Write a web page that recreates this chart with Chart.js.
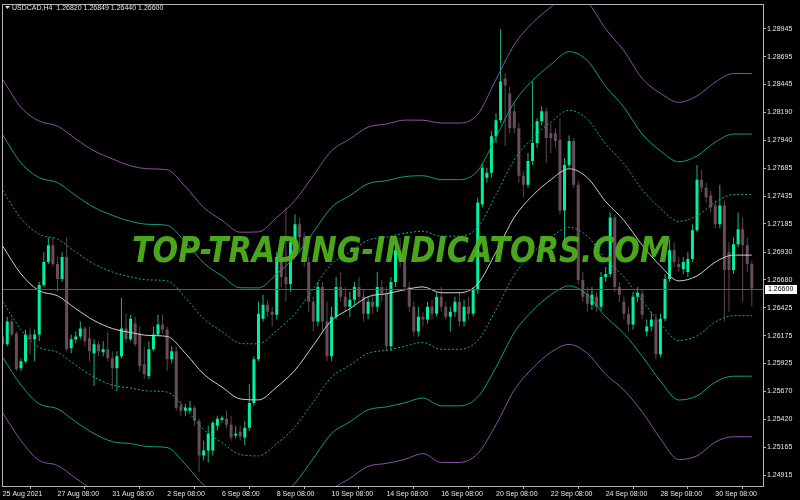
<!DOCTYPE html>
<html>
<head>
<meta charset="utf-8">
<script src="https://cdn.jsdelivr.net/npm/chart.js@4.4.0/dist/chart.umd.min.js"></script>
<style>
html, body { margin: 0; padding: 0; background: #000; }
#wrap { width: 800px; height: 500px; position: relative; }
</style>
</head>
<body>
<div id="wrap"><canvas id="chart" width="800" height="500"></canvas></div>
<script>
var symbolTitle = "USDCAD,H4  1.26820 1.26849 1.26440 1.26600";
var watermark = "TOP-TRADING-INDICATORS.COM";

// H4 candles (one entry per bar)
var opens = [
  1.26167,1.26096,1.26302,1.26194,1.25880,1.25943,1.26185,1.26141,1.26185,1.26633,
  1.26839,1.26992,1.26821,1.26687,1.26884,1.26060,1.26141,1.26167,1.26239,1.26150,
  1.26015,1.26096,1.26024,1.26051,1.25970,1.25880,1.25988,1.26239,1.26141,1.26284,
  1.26194,1.25916,1.25809,1.26051,1.26185,1.26275,1.26230,1.25961,1.26033,1.25540,
  1.25495,1.25495,1.25522,1.25406,1.25092,1.25137,1.25137,1.25361,1.25415,1.25424,
  1.25370,1.25272,1.25307,1.25254,1.25343,1.25567,1.25961,1.26328,1.26454,1.26391,
  1.26364,1.26884,1.26705,1.26642,1.27019,1.27180,1.27064,1.26839,1.26481,1.26302,
  1.26615,1.26302,1.25988,1.26346,1.26615,1.26526,1.26436,1.26499,1.26615,1.26526,
  1.26373,1.26481,1.26436,1.26615,1.26553,1.26078,1.26660,1.26947,1.26839,1.26615,
  1.26436,1.26212,1.26346,1.26320,1.26436,1.26373,1.26526,1.26436,1.26346,1.26391,
  1.26481,1.26302,1.26436,1.26373,1.26589,1.27359,1.27601,1.27646,1.27977,1.28121,
  1.28497,1.28363,1.28201,1.28049,1.27619,1.27538,1.27753,1.27915,1.28112,1.28201,
  1.28004,1.28004,1.27942,1.27305,1.27717,1.27933,1.27538,1.26678,1.26553,1.26454,
  1.26526,1.26436,1.26705,1.26732,1.27242,1.26615,1.26481,1.26373,1.26275,1.26526,
  1.26553,1.26212,1.26257,1.26320,1.26006,1.26328,1.26687,1.26947,1.26821,1.26777,
  1.26750,1.26866,1.27126,1.27583,1.27511,1.27440,1.27350,1.27180,1.27350,1.26929,
  1.26768,1.27001,1.27135,1.26992,1.26820
];
var highs = [
  1.26230,1.26346,1.26328,1.26212,1.25970,1.26230,1.26248,1.26230,1.26660,1.26929,
  1.27064,1.27064,1.26884,1.26929,1.27064,1.26185,1.26212,1.26302,1.26257,1.26257,
  1.26141,1.26123,1.26123,1.26212,1.26033,1.26033,1.26517,1.26373,1.26364,1.26346,
  1.26257,1.26078,1.26123,1.26257,1.26364,1.26364,1.26257,1.26078,1.26078,1.25585,
  1.25558,1.25585,1.25540,1.25424,1.25227,1.25361,1.25406,1.25451,1.25451,1.25495,
  1.25451,1.25361,1.25361,1.25406,1.25737,1.25988,1.26481,1.26544,1.26499,1.26436,
  1.26929,1.26974,1.27332,1.27064,1.27269,1.27242,1.27108,1.26884,1.26526,1.26660,
  1.26660,1.26481,1.26436,1.26705,1.26750,1.26615,1.26571,1.26660,1.26705,1.26589,
  1.26526,1.26553,1.26750,1.26678,1.26615,1.26705,1.27019,1.27064,1.26884,1.26660,
  1.26481,1.26436,1.26391,1.26481,1.26499,1.26571,1.26615,1.26481,1.26436,1.26526,
  1.26571,1.26499,1.26526,1.26615,1.27422,1.27735,1.27691,1.28022,1.28183,1.28945,
  1.28542,1.28425,1.28273,1.28094,1.27664,1.27825,1.28470,1.28139,1.28246,1.28228,
  1.28094,1.28049,1.28139,1.27780,1.27986,1.27960,1.27574,1.26750,1.26615,1.26615,
  1.26571,1.26750,1.26795,1.27287,1.27269,1.26660,1.26526,1.26436,1.26571,1.26615,
  1.26589,1.26320,1.26391,1.26373,1.26373,1.26732,1.27046,1.27019,1.26884,1.26884,
  1.26929,1.27180,1.27717,1.27673,1.27556,1.27485,1.27395,1.27538,1.27395,1.27019,
  1.27064,1.27287,1.27242,1.27064,1.26849
];
var lows = [
  1.26006,1.26078,1.26167,1.25854,1.25854,1.25925,1.26006,1.25943,1.26123,1.26615,
  1.26821,1.26795,1.26571,1.26660,1.26033,1.26015,1.26105,1.26141,1.26078,1.25943,
  1.25719,1.25988,1.25988,1.25943,1.25692,1.25675,1.25970,1.26105,1.26123,1.26078,
  1.25854,1.25782,1.25782,1.26033,1.26167,1.26194,1.25854,1.25925,1.25495,1.25451,
  1.25451,1.25477,1.25361,1.24940,1.25047,1.25029,1.25092,1.25316,1.25388,1.25334,
  1.25227,1.25245,1.25227,1.25182,1.25316,1.25540,1.25943,1.26302,1.26346,1.26257,
  1.26320,1.26615,1.26481,1.26571,1.26974,1.26929,1.26795,1.26391,1.26212,1.26257,
  1.26212,1.25943,1.25943,1.26320,1.26481,1.26391,1.26346,1.26436,1.26481,1.26302,
  1.26320,1.26373,1.26391,1.26481,1.26033,1.26033,1.26615,1.26795,1.26571,1.26391,
  1.26167,1.26167,1.26257,1.26284,1.26320,1.26346,1.26391,1.26320,1.26212,1.26346,
  1.26257,1.26257,1.26320,1.26346,1.26553,1.27332,1.27556,1.27601,1.27915,1.28094,
  1.27888,1.28004,1.28004,1.27556,1.27422,1.27511,1.27717,1.27870,1.28076,1.27735,
  1.27825,1.27870,1.27269,1.27001,1.27691,1.27511,1.26642,1.26481,1.26391,1.26409,
  1.26391,1.26409,1.26660,1.26705,1.26571,1.26481,1.26320,1.26212,1.26230,1.26481,
  1.26320,1.26167,1.26212,1.25961,1.25979,1.26302,1.26660,1.26795,1.26750,1.26732,
  1.26705,1.26839,1.27108,1.27467,1.27377,1.27287,1.27145,1.27145,1.26302,1.26391,
  1.26732,1.26974,1.26481,1.26750,1.26440
];
var closes = [
  1.26096,1.26302,1.26185,1.25871,1.25943,1.26185,1.26141,1.26185,1.26633,1.26839,
  1.26992,1.26821,1.26687,1.26884,1.26051,1.26141,1.26167,1.26239,1.26123,1.26033,
  1.26096,1.26033,1.26051,1.25970,1.25880,1.25988,1.26239,1.26141,1.26328,1.26096,
  1.25898,1.25827,1.26051,1.26185,1.26275,1.26230,1.25961,1.26033,1.25522,1.25495,
  1.25522,1.25522,1.25406,1.25092,1.25137,1.25289,1.25388,1.25424,1.25433,1.25370,
  1.25254,1.25289,1.25263,1.25343,1.25567,1.25961,1.26373,1.26454,1.26391,1.26364,
  1.26884,1.26705,1.26642,1.27019,1.27180,1.27064,1.26839,1.26481,1.26302,1.26615,
  1.26302,1.25988,1.26346,1.26615,1.26526,1.26436,1.26499,1.26615,1.26526,1.26373,
  1.26481,1.26436,1.26615,1.26553,1.26078,1.26660,1.26947,1.26839,1.26615,1.26436,
  1.26212,1.26346,1.26320,1.26436,1.26373,1.26526,1.26436,1.26346,1.26391,1.26481,
  1.26302,1.26436,1.26373,1.26589,1.27377,1.27691,1.27646,1.27977,1.28121,1.28470,
  1.28434,1.28049,1.28049,1.27619,1.27538,1.27753,1.27915,1.28112,1.28201,1.27960,
  1.27960,1.27933,1.27305,1.27717,1.27933,1.27538,1.26678,1.26526,1.26463,1.26544,
  1.26436,1.26705,1.26732,1.27242,1.26615,1.26544,1.26373,1.26275,1.26526,1.26562,
  1.26364,1.26257,1.26320,1.26006,1.26328,1.26687,1.26947,1.26839,1.26795,1.26839,
  1.26866,1.27126,1.27583,1.27511,1.27422,1.27332,1.27180,1.27350,1.26768,1.26768,
  1.27001,1.27135,1.26992,1.26821,1.26600
];

// moving average (white) sampled every 4 bars, and the band step of the envelope
var maIdx = [0,4,8,12,16,20,24,28,32,36,40,44,48,52,56,60,64,68,72,76,80,
             84,88,92,96,100,104,108,112,116,120,124,128,132,136,140,144,148,152,156,160,164];
var maVals = [1.26983,1.26732,1.26580,1.26535,1.26418,1.26311,1.26239,1.26203,1.26176,1.26167,1.26015,
              1.25827,1.25710,1.25603,1.25594,1.25710,1.25863,1.26087,1.26311,1.26418,1.26526,
              1.26553,1.26589,1.26615,1.26562,1.26562,1.26642,1.26929,1.27243,1.27440,1.27583,
              1.27682,1.27601,1.27386,1.27216,1.26992,1.26804,1.26669,1.26714,1.26839,1.26902,1.26902];
var bandStep = [0.00502,0.00502,0.00511,0.00511,0.00511,0.00511,0.00511,0.00502,0.00502,0.00502,0.00502,
                0.00502,0.00502,0.00502,0.00506,0.00511,0.00511,0.00511,0.00511,0.00511,0.00511,
                0.00511,0.00511,0.00502,0.00511,0.00511,0.00511,0.00520,0.00520,0.00520,0.00520,
                0.00529,0.00529,0.00520,0.00511,0.00502,0.00520,0.00538,0.00542,0.00542,0.00547,0.00547];

var dateTicks = [0,12,24,36,48,60,72,84,96,108,120,132,144,156];
var dateLabels = ["25 Aug 2021","27 Aug 08:00","31 Aug 08:00","2 Sep 08:00","6 Sep 08:00",
                  "8 Sep 08:00","10 Sep 08:00","14 Sep 08:00","16 Sep 08:00","20 Sep 08:00",
                  "22 Sep 08:00","24 Sep 08:00","28 Sep 08:00","30 Sep 08:00"];

var priceTicks = [1.28945,1.28695,1.28445,1.28190,1.27940,1.27685,1.27435,1.27185,1.26930,
                  1.26680,1.26425,1.26175,1.25925,1.25670,1.25420,1.25165,1.24915];

var bullBody = "#00f29e", bearBody = "#684b5c";
var bullWick = "#18b57c", bearWick = "#5e4453";
var frameColor = "#b4b4b4";
var lastClose = closes[closes.length - 1];

function isBull(i) { return closes[i] >= opens[i]; }

var wickData = highs.map((h, i) => ({ x: i, y: [lows[i], h] }));
var bodyData = opens.map((o, i) => ({ x: i, y: [o, closes[i]] }));

function band(k) {
    return maIdx.map((x, j) => ({ x: x, y: maVals[j] + k * bandStep[j] }));
}

function bandLine(k, color, dash) {
    return {
        type: "line",
        data: band(k),
        borderColor: color,
        borderWidth: 1,
        borderDash: dash,
        pointRadius: 0,
        cubicInterpolationMode: "monotone",
        fill: false,
        order: 0
    };
}

var mtPlugin = {
    id: "mtDecor",
    beforeDraw(chart) {
        var c = chart.ctx;
        c.save();
        c.fillStyle = "#000";
        c.fillRect(0, 0, chart.width, chart.height);
        c.restore();
    },
    afterDatasetsDraw(chart) {
        var c = chart.ctx, a = chart.chartArea;
        var y = chart.scales.y.getPixelForValue(lastClose);
        c.save();
        // last price line
        c.strokeStyle = "#6a5060";
        c.lineWidth = 1;
        c.beginPath();
        c.moveTo(a.left, Math.round(y) + 0.5);
        c.lineTo(a.right, Math.round(y) + 0.5);
        c.stroke();

        // watermark
        c.font = "bold italic 35px 'DejaVu Sans'";
        var w = c.measureText(watermark).width;
        c.translate(132, 262);
        c.scale(538 / w, 1);
        c.fillStyle = "rgba(78,176,28,0.95)";
        c.textBaseline = "alphabetic";
        c.fillText(watermark, 0, 0);
        c.restore();
    },
    afterDraw(chart) {
        var c = chart.ctx, a = chart.chartArea;
        c.save();
        c.strokeStyle = frameColor;
        c.lineWidth = 1;
        c.strokeRect(Math.round(a.left) + 0.5, Math.round(a.top) - 0.5, Math.round(a.right - a.left), Math.round(a.bottom - a.top) + 1);

        // title
        c.fillStyle = "#e0e0e0";
        c.beginPath();
        c.moveTo(5, 6); c.lineTo(10, 6); c.lineTo(7.5, 9); c.closePath();
        c.fill();
        c.font = "7px 'Liberation Sans'";
        c.textBaseline = "alphabetic";
        c.fillText(symbolTitle, 12, 10);

        // last price box on the axis
        var y = Math.round(chart.scales.y.getPixelForValue(lastClose));
        c.fillStyle = "#ffffff";
        c.fillRect(765, y - 4, 32, 9);
        c.fillStyle = "#000";
        c.textBaseline = "middle";
        c.fillText(lastClose.toFixed(5), 768, y + 0.5);
        c.restore();
    }
};

Chart.defaults.font.family = "'Liberation Sans', Arial, sans-serif";
Chart.defaults.font.size = 7;
Chart.defaults.color = "#e6e6e6";

new Chart(document.getElementById("chart"), {
    type: "bar",
    plugins: [mtPlugin],
    data: {
        datasets: [
            { type: "line", data: maIdx.map((x, j) => ({ x: x, y: maVals[j] })), borderColor: "#cfcfcf", borderWidth: 1,
              pointRadius: 0, cubicInterpolationMode: "monotone", fill: false, order: 0 },
            bandLine(1, "#16a98c", [2, 2]),
            bandLine(-1, "#16a98c", [2, 2]),
            bandLine(2, "#109f70", []),
            bandLine(-2, "#109f70", []),
            bandLine(3, "#8c4fa6", []),
            bandLine(-3, "#8c4fa6", []),
            {
                data: wickData,
                grouped: false,
                maxBarThickness: 1,
                backgroundColor: ctx => isBull(ctx.dataIndex) ? bullWick : bearWick,
                borderWidth: 0,
                order: 2
            },
            {
                data: bodyData,
                grouped: false,
                maxBarThickness: 3,
                minBarLength: 1,
                backgroundColor: ctx => isBull(ctx.dataIndex) ? bullBody : bearBody,
                borderWidth: 0,
                order: 1
            }
        ]
    },
    options: {
        responsive: false,
        animation: false,
        maintainAspectRatio: false,
        devicePixelRatio: 1,
        layout: { padding: { left: 2, top: 1, right: 0, bottom: 0 } },
        plugins: { legend: { display: false }, tooltip: { enabled: false } },
        scales: {
            x: {
                type: "linear",
                offset: false,
                min: -0.15,
                max: 166.45,
                afterBuildTicks: s => { s.ticks = dateTicks.map(v => ({ value: v })); },
                afterFit: s => { s.height = 14; },
                ticks: {
                    autoSkip: false,
                    maxRotation: 0,
                    align: "start",
                    padding: 1,
                    color: "#e6e6e6",
                    callback: v => dateLabels[dateTicks.indexOf(v)]
                },
                grid: { drawOnChartArea: false, drawTicks: true, tickLength: 3, color: frameColor },
                border: { display: false }
            },
            y: {
                position: "right",
                min: 1.24816,
                max: 1.29160,
                afterBuildTicks: s => { s.ticks = priceTicks.map(v => ({ value: v })); },
                afterFit: s => { s.width = 37; },
                ticks: {
                    padding: 1,
                    color: "#e6e6e6",
                    callback: v => v.toFixed(5)
                },
                grid: { drawOnChartArea: false, drawTicks: true, tickLength: 3, color: frameColor },
                border: { display: false }
            }
        }
    }
});
</script>
</body>
</html>
